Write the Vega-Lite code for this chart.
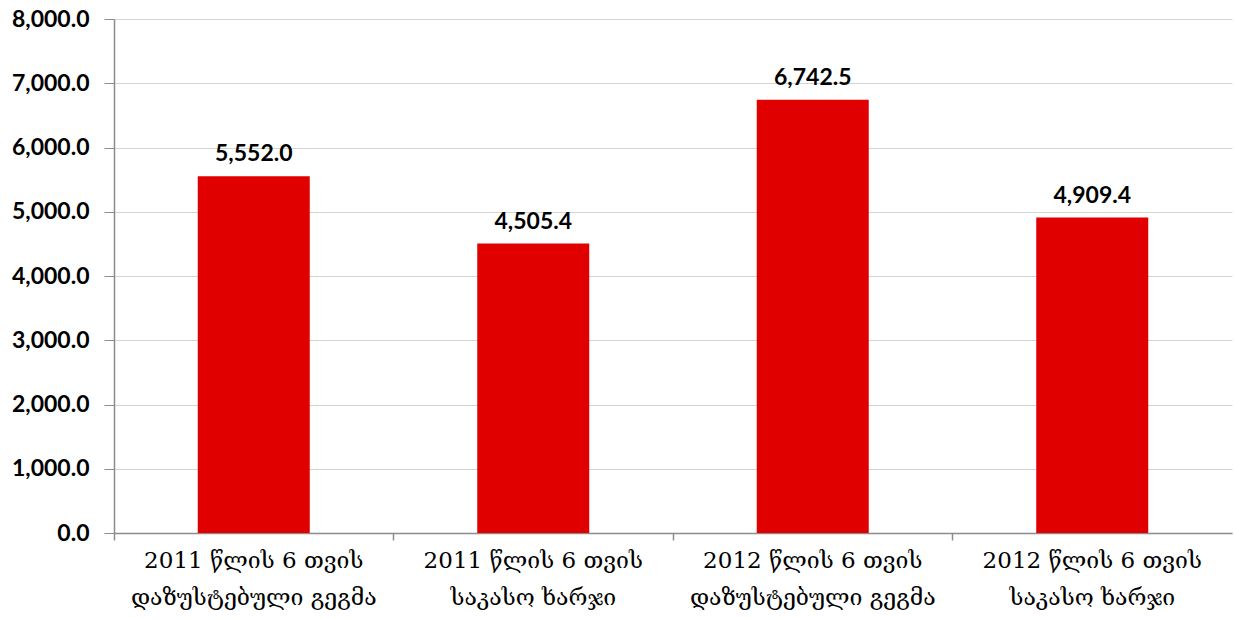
{
  "$schema": "https://vega.github.io/schema/vega-lite/v6.json",
  "autosize": {"type": "none"},
  "width": 1118,
  "height": 514,
  "padding": {"left": 114, "top": 19, "right": 2, "bottom": 86},
  "background": "white",
  "config": {"view": {"stroke": null}},
  "data": {"values": [
    {"cat": "2011 წლის 6 თვის|დაზუსტებული გეგმა", "value": 5552.0},
    {"cat": "2011 წლის 6 თვის|საკასო ხარჯი", "value": 4505.4},
    {"cat": "2012 წლის 6 თვის|დაზუსტებული გეგმა", "value": 6742.5},
    {"cat": "2012 წლის 6 თვის|საკასო ხარჯი", "value": 4909.4}
  ]},
  "encoding": {
    "x": {"field": "cat", "type": "nominal", "sort": null,
      "scale": {"paddingInner": 0, "paddingOuter": 0}}
  },
  "layer": [
    {
      "mark": {"type": "bar", "color": "#E10000", "size": 112},
      "encoding": {
        "x": {"field": "cat", "type": "nominal", "sort": null,
          "axis": {"title": null, "orient": "bottom", "labelAngle": 0, "labelExpr": "split(datum.label, '|')",
            "labelFont": "DejaVu Serif", "labelFontSize": 23, "labelColor": "#000000",
            "labelLineHeight": 37, "labelPadding": 16, "ticks": false,
            "domainColor": "#8C8C8C", "domainWidth": 1.5, "labelLimit": 400}},
        "y": {"field": "value", "type": "quantitative",
          "scale": {"domain": [0, 8000]},
          "axis": {"title": null, "values": [0, 1000, 2000, 3000, 4000, 5000, 6000, 7000, 8000],
            "format": ",.1f", "labelFont": "Lato", "labelFontWeight": "bold", "labelFontSize": 23,
            "labelColor": "#000000", "labelPadding": 15, "tickSize": 10, "tickColor": "#8C8C8C",
            "domainColor": "#8C8C8C", "domainWidth": 1.5,
            "grid": true, "gridColor": "#D4D4D4", "gridWidth": 1.2}}
      }
    },
    {
      "mark": {"type": "text", "baseline": "bottom", "dy": -10, "font": "Lato", "fontWeight": "bold", "fontSize": 23, "color": "#000000"},
      "encoding": {
        "x": {"field": "cat", "type": "nominal", "sort": null,
          "axis": {"title": null, "orient": "bottom", "labels": false, "domain": false, "ticks": true, "tickSize": 7,
            "tickColor": "#8C8C8C", "tickWidth": 1.5, "bandPosition": 0}},
        "y": {"field": "value", "type": "quantitative"},
        "text": {"field": "value", "type": "quantitative", "format": ",.1f"}
      }
    }
  ],
  "resolve": {"axis": {"x": "independent"}}
}
